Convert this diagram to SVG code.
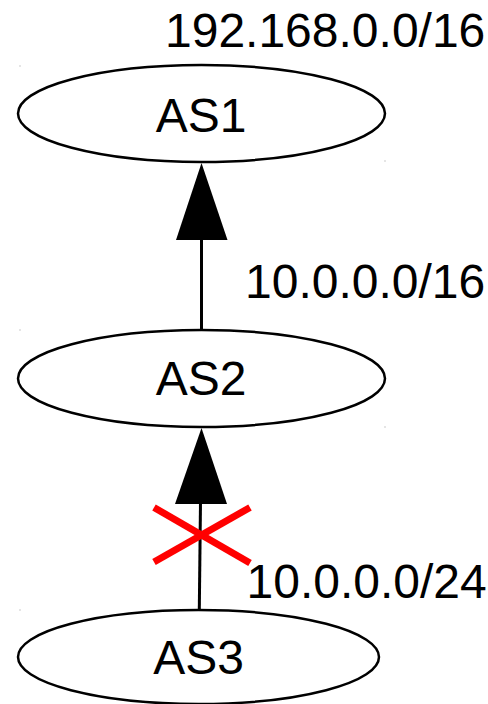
<svg xmlns="http://www.w3.org/2000/svg" width="488" height="704" viewBox="0 0 488 704">
<style>
.n ellipse{fill:#fff;stroke:#000;stroke-width:2.5}
text{font-family:"Liberation Sans",Arial,sans-serif;font-size:48px;fill:#000}
.c{text-anchor:middle}
.e{stroke:#000;stroke-width:3;fill:none}
.h{fill:#000;stroke:none}
.x{stroke:#ff0000;stroke-width:7;fill:none}
.d{fill:#999}
</style>
<rect width="488" height="704" fill="#fff"/>
<g id="connectors">
<line class="e" x1="201.5" y1="330" x2="201.5" y2="238"/>
<polygon class="h" points="201.5,163 176,240 227.5,240"/>
<line class="e" x1="199.3" y1="610" x2="200.5" y2="502"/>
<polygon class="h" points="201.5,428 175,504 227,504"/>
<g id="block">
<line class="x" x1="154" y1="507.5" x2="250" y2="563"/>
<line class="x" x1="154" y1="562" x2="250" y2="507.5"/>
</g>
</g>
<g id="as1" class="n">
<ellipse cx="201.5" cy="113.5" rx="183.5" ry="48.5"/>
<text class="c" x="201" y="131.5">AS1</text>
</g>
<g id="as2" class="n">
<ellipse cx="201.5" cy="378.5" rx="183.5" ry="48.5"/>
<text class="c" x="201" y="395">AS2</text>
</g>
<g id="as3" class="n">
<ellipse cx="198.5" cy="657" rx="180.5" ry="47"/>
<text class="c" x="198.5" y="674">AS3</text>
</g>
<g id="labels">
<text x="165" y="46.5">192.168.0.0/16</text>
<text x="245" y="298">10.0.0.0/16</text>
<text x="246.5" y="598">10.0.0.0/24</text>
</g>
<g id="marks">
<rect class="d" x="19.5" y="65.5" width="1" height="1"/>
<rect class="d" x="384.5" y="160.5" width="1" height="1"/>
<rect class="d" x="19.5" y="329.5" width="1" height="1"/>
<rect class="d" x="384.5" y="426.5" width="1" height="1"/>
<rect class="d" x="19.5" y="609.5" width="1" height="1"/>
</g>
</svg>
